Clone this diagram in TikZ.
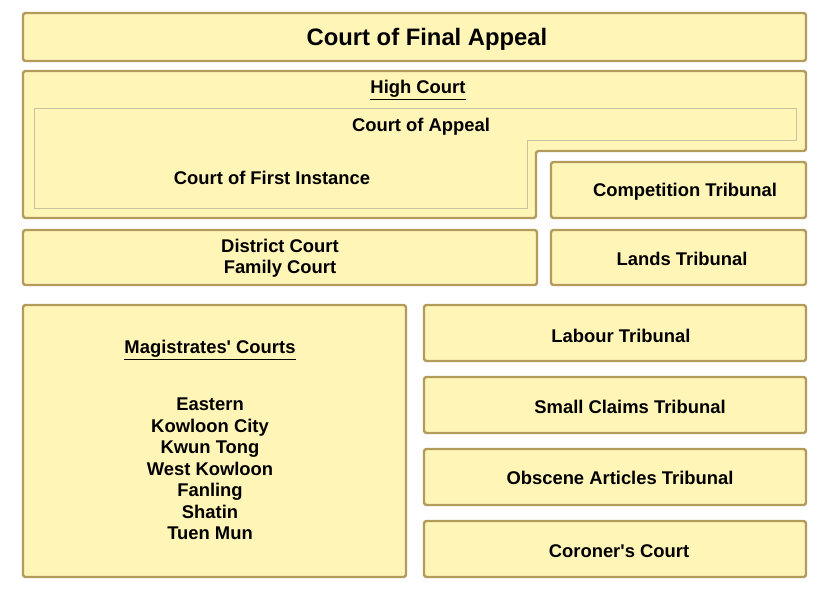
\documentclass[tikz,border=0pt]{standalone}
\usepackage{fontspec}
\setmainfont{Liberation Sans}
\definecolor{courtfill}{HTML}{FFF5B7}
\definecolor{courtedge}{HTML}{B39B5C}
\definecolor{courtline}{HTML}{C9C2A0}
\tikzset{
  court/.style={draw=courtedge,fill=courtfill,line width=2.4pt,rounded corners=2.5pt,inner sep=0pt},
  courttext/.style={font=\fontsize{18.4}{21.5}\selectfont\bfseries,align=center,inner sep=0pt,yshift=-2pt},
}
\newcommand{\courtbox}[5]{% name, x0, y0, x1, y1
  \node[court,minimum width={(#4-#2)*1pt},minimum height={(#5-#3)*1pt}] (#1) at ({(#2+#4)/2},{(#3+#5)/2}) {};}
\newcommand{\uline}[1]{\underline{#1}}

\begin{document}
\begin{tikzpicture}[x=1pt,y=-1pt,line join=round]
\useasboundingbox[fill=white] (0,0) rectangle (832,597);
% top
\courtbox{cfa}{23}{13}{806}{61}
\node[courttext,font=\fontsize{23.8}{26}\selectfont\bfseries] (cfatext) at (427,37) {Court of Final Appeal};
% high court
\draw[court] (23,71) -- (806,71) -- (806,151) -- (536,151) -- (536,218) -- (23,218) -- cycle;
\draw[courtline,line width=1pt] (34,108) -- (796,108) -- (796,140) -- (527,140) -- (527,208) -- (34,208) -- cycle;
\node[courttext] (hc) at (418,88) {\uline{High Court}};
\node[courttext] (ca) at (421,125) {Court of Appeal};
\node[courttext] (cfi) at (272,176) {Court of First Instance};
\courtbox{comp}{551}{162}{806}{218}
\node[courttext] (comptext) at (685,190) {Competition Tribunal};
% district and lands
\courtbox{dc}{23}{230}{537}{285}
\node[courttext] (dctext) at (280,256) {District Court\\Family Court};
\courtbox{lands}{551}{230}{806}{285}
\node[courttext] (landstext) at (682,257) {Lands Tribunal};
% magistrates
\courtbox{mag}{23}{305}{406}{577}
\node[courttext] (magtitle) at (210,348) {\uline{Magistrates\textquotesingle{} Courts}};
\node[courttext,anchor=north] (maglist) at (210,396) {Eastern\\Kowloon City\\Kwun Tong\\West Kowloon\\Fanling\\Shatin\\Tuen Mun};
% tribunals
\courtbox{labour}{424}{305}{806}{361}
\node[courttext] (labourtext) at (621,334) {Labour Tribunal};
\courtbox{claims}{424}{377}{806}{433}
\node[courttext] (claimstext) at (630,405) {Small Claims Tribunal};
\courtbox{obscene}{424}{449}{806}{505}
\node[courttext] (obscenetext) at (620,476) {Obscene Articles Tribunal};
\courtbox{coroner}{424}{521}{806}{577}
\node[courttext] (coronertext) at (619,549) {Coroner\textquotesingle{}s Court};
\end{tikzpicture}
\end{document}
